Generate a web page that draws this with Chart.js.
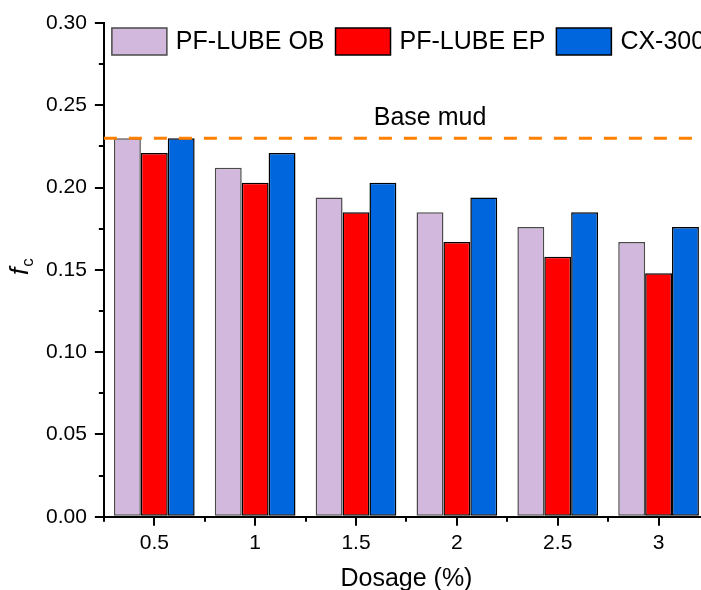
<!DOCTYPE html>
<html>
<head>
<meta charset="utf-8">
<script src="https://cdn.jsdelivr.net/npm/chart.js@4.4.1/dist/chart.umd.min.js"></script>
<style>
  html, body { margin: 0; padding: 0; background: #fff; overflow: hidden; }
  #wrap { width: 701px; height: 590px; overflow: hidden; position: relative; }
  #chart { position: absolute; left: 0; top: 0; }
</style>
</head>
<body>
<div id="wrap"><canvas id="chart" width="712" height="590"></canvas></div>
<script>
const FONT = 'Arial, "Liberation Sans", sans-serif';

const dosages = ['0.5', '1', '1.5', '2', '2.5', '3'];
const obValues = [0.230, 0.212, 0.194, 0.185, 0.176, 0.167];
const epValues = [0.221, 0.203, 0.185, 0.167, 0.158, 0.148];
const cxValues = [0.230, 0.221, 0.203, 0.194, 0.185, 0.176];
const baseMud = 0.23;
const yMinorTicks = [0.025, 0.075, 0.125, 0.175, 0.225, 0.275];

const COLORS = {
  ob: '#d2b8dc',
  obBorder: '#4a4a4a',
  ep: '#ff0000',
  cx: '#0066dd',
  base: '#ff8000'
};

// minor ticks, base mud line, legend and y title
const extrasPlugin = {
  id: 'extras',
  afterDraw(chart) {
    const { ctx, chartArea, scales } = chart;
    const y = scales.y;
    ctx.save();

    ctx.strokeStyle = '#000';
    ctx.lineWidth = 2;
    ctx.beginPath();
    yMinorTicks.forEach((v) => {
      const py = Math.round(y.getPixelForValue(v));
      ctx.moveTo(chartArea.left - 5, py);
      ctx.lineTo(chartArea.left, py);
    });
    for (let i = 0; i <= dosages.length; i++) {
      const px = Math.round(chartArea.left + (chartArea.right - chartArea.left) * i / dosages.length);
      ctx.moveTo(px, chartArea.bottom);
      ctx.lineTo(px, chartArea.bottom + 5);
    }
    ctx.stroke();

    const by = y.getPixelForValue(baseMud);
    ctx.strokeStyle = COLORS.base;
    ctx.lineWidth = 3;
    ctx.setLineDash([13, 12]);
    ctx.beginPath();
    ctx.moveTo(chartArea.left, by);
    ctx.lineTo(chartArea.right, by);
    ctx.stroke();
    ctx.setLineDash([]);

    ctx.fillStyle = '#000';
    ctx.font = `25px ${FONT}`;
    ctx.textAlign = 'center';
    ctx.textBaseline = 'alphabetic';
    ctx.fillText('Base mud', 430, by - 13);

    // legend
    let lx = chartArea.left + 8;
    const ly = 28;
    ctx.textAlign = 'left';
    ctx.textBaseline = 'middle';
    chart.data.datasets.forEach((ds) => {
      ctx.fillStyle = ds.backgroundColor;
      ctx.fillRect(lx, ly, 55, 27);
      ctx.strokeStyle = ds.borderColor;
      ctx.lineWidth = 1.5;
      ctx.strokeRect(lx, ly, 55, 27);
      ctx.fillStyle = '#000';
      ctx.fillText(ds.label, lx + 64, ly + 14);
      lx += 64 + ctx.measureText(ds.label).width + 11;
    });

    // y title: italic f with subscript c
    ctx.translate(28, 275);
    ctx.rotate(-Math.PI / 2);
    ctx.textBaseline = 'alphabetic';
    ctx.font = `italic 26px ${FONT}`;
    ctx.fillText('f', 0, 0);
    const fw = ctx.measureText('f').width;
    ctx.font = `17px ${FONT}`;
    ctx.fillText('c', fw + 1, 5);
    ctx.restore();
  }
};

function bars(label, data, color, border) {
  return {
    label,
    data,
    backgroundColor: color,
    borderColor: border,
    borderWidth: 1.5,
    borderSkipped: false,
    categoryPercentage: 0.8,
    barPercentage: 1.0
  };
}

new Chart(document.getElementById('chart'), {
  type: 'bar',
  data: {
    labels: dosages,
    datasets: [
      bars('PF-LUBE OB', obValues, COLORS.ob, COLORS.obBorder),
      bars('PF-LUBE EP', epValues, COLORS.ep, '#000'),
      bars('CX-300', cxValues, COLORS.cx, '#000')
    ]
  },
  options: {
    responsive: false,
    animation: false,
    layout: { padding: { left: 38, top: 23, right: 3, bottom: 0 } },
    scales: {
      x: {
        grid: { display: true, drawOnChartArea: false, offset: false, tickLength: 9, color: '#000', lineWidth: 2 },
        border: { display: true, color: '#000', width: 2 },
        ticks: { color: '#000', font: { family: FONT, size: 21, lineHeight: 1 }, padding: 7, maxRotation: 0 },
        title: { display: true, text: 'Dosage (%)', color: '#000', font: { family: FONT, size: 25, lineHeight: 0.85 }, padding: { top: 8, bottom: 0 } }
      },
      y: {
        min: 0,
        max: 0.30,
        grid: { display: true, drawOnChartArea: false, tickLength: 9, color: '#000', lineWidth: 2 },
        border: { display: true, color: '#000', width: 2 },
        ticks: {
          stepSize: 0.05,
          color: '#000',
          font: { family: FONT, size: 21 },
          padding: 8,
          callback: (v) => Number(v).toFixed(2)
        }
      }
    },
    plugins: {
      legend: { display: false },
      tooltip: { enabled: false }
    }
  },
  plugins: [extrasPlugin]
});
</script>
</body>
</html>
